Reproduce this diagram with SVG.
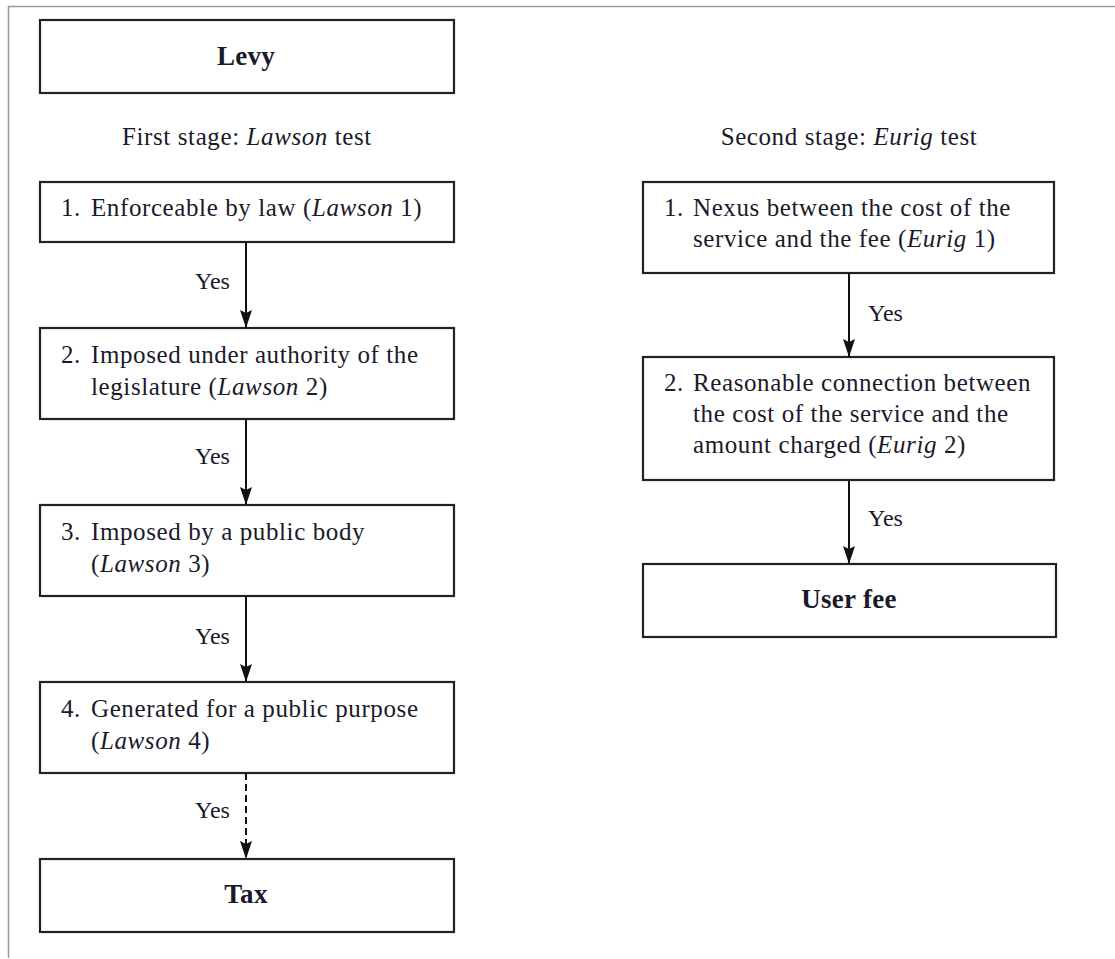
<svg xmlns="http://www.w3.org/2000/svg" width="1115" height="959" viewBox="0 0 1115 959">
<style>
.box{fill:#fff;stroke:#222;stroke-width:2.2}
.t{font-family:"Liberation Serif","Times New Roman",serif;font-size:25px;letter-spacing:0.6px;fill:#1a1a2a}
.y{font-size:24px;letter-spacing:0}
.b{font-weight:bold;font-size:27px;letter-spacing:0.3px}
.c{text-anchor:middle}
.conn{stroke:#111;stroke-width:2;fill:none}
</style>
<defs>
<marker id="ah" viewBox="0 0 18 12" refX="18" refY="6" markerWidth="18" markerHeight="12" markerUnits="userSpaceOnUse" orient="auto">
<path d="M0,0 L18,6 L0,12 L3,6 z" fill="#111"/>
</marker>
</defs>
<rect width="1115" height="959" fill="#fff"/>
<path d="M8.5,958 L8.5,6.5 L1115,6.5" fill="none" stroke="#9a9a9a" stroke-width="1.5"/>

<text class="t c" x="247" y="145">First stage: <tspan font-style="italic">Lawson</tspan> test</text>
<text class="t c" x="849" y="145">Second stage: <tspan font-style="italic">Eurig</tspan> test</text>

<g id="levy"><rect class="box" x="40" y="20" width="414" height="73"/><text class="t b c" x="246" y="65">Levy</text></g>
<g id="l1"><rect class="box" x="40" y="182" width="414" height="60"/><text class="t" x="61" y="216">1.</text><text class="t" x="91" y="216">Enforceable by law (<tspan font-style="italic">Lawson</tspan> 1)</text></g>
<g id="l2"><rect class="box" x="40" y="328" width="414" height="91"/><text class="t" x="61" y="363">2.</text><text class="t" x="91" y="363">Imposed under authority of the</text><text class="t" x="91" y="395">legislature (<tspan font-style="italic">Lawson</tspan> 2)</text></g>
<g id="l3"><rect class="box" x="40" y="505" width="414" height="91"/><text class="t" x="61" y="540">3.</text><text class="t" x="91" y="540">Imposed by a public body</text><text class="t" x="91" y="572">(<tspan font-style="italic">Lawson</tspan> 3)</text></g>
<g id="l4"><rect class="box" x="40" y="682" width="414" height="91"/><text class="t" x="61" y="717">4.</text><text class="t" x="91" y="717">Generated for a public purpose</text><text class="t" x="91" y="749">(<tspan font-style="italic">Lawson</tspan> 4)</text></g>
<g id="tax"><rect class="box" x="40" y="859" width="414" height="73"/><text class="t b c" x="246" y="903">Tax</text></g>

<g id="r1"><rect class="box" x="643" y="182" width="411" height="91"/><text class="t" x="664" y="216">1.</text><text class="t" x="693" y="216">Nexus between the cost of the</text><text class="t" x="693" y="247">service and the fee (<tspan font-style="italic">Eurig</tspan> 1)</text></g>
<g id="r2"><rect class="box" x="643" y="357" width="411" height="123"/><text class="t" x="664" y="391">2.</text><text class="t" x="693" y="391">Reasonable connection between</text><text class="t" x="693" y="422">the cost of the service and the</text><text class="t" x="693" y="453">amount charged (<tspan font-style="italic">Eurig</tspan> 2)</text></g>
<g id="fee"><rect class="box" x="643" y="564" width="413" height="73"/><text class="t b c" x="849" y="608">User fee</text></g>

<g id="connectors">
<line class="conn" x1="246" y1="242" x2="246" y2="328" marker-end="url(#ah)"/>
<line class="conn" x1="246" y1="419" x2="246" y2="505" marker-end="url(#ah)"/>
<line class="conn" x1="246" y1="596" x2="246" y2="682" marker-end="url(#ah)"/>
<line class="conn" x1="246" y1="773" x2="246" y2="859" stroke-dasharray="7,4" marker-end="url(#ah)"/>
<line class="conn" x1="849" y1="273" x2="849" y2="357" marker-end="url(#ah)"/>
<line class="conn" x1="849" y1="480" x2="849" y2="564" marker-end="url(#ah)"/>
<text class="t y" x="195" y="289">Yes</text>
<text class="t y" x="195" y="464">Yes</text>
<text class="t y" x="195" y="644">Yes</text>
<text class="t y" x="195" y="818">Yes</text>
<text class="t y" x="868" y="321">Yes</text>
<text class="t y" x="868" y="526">Yes</text>
</g>
</svg>
